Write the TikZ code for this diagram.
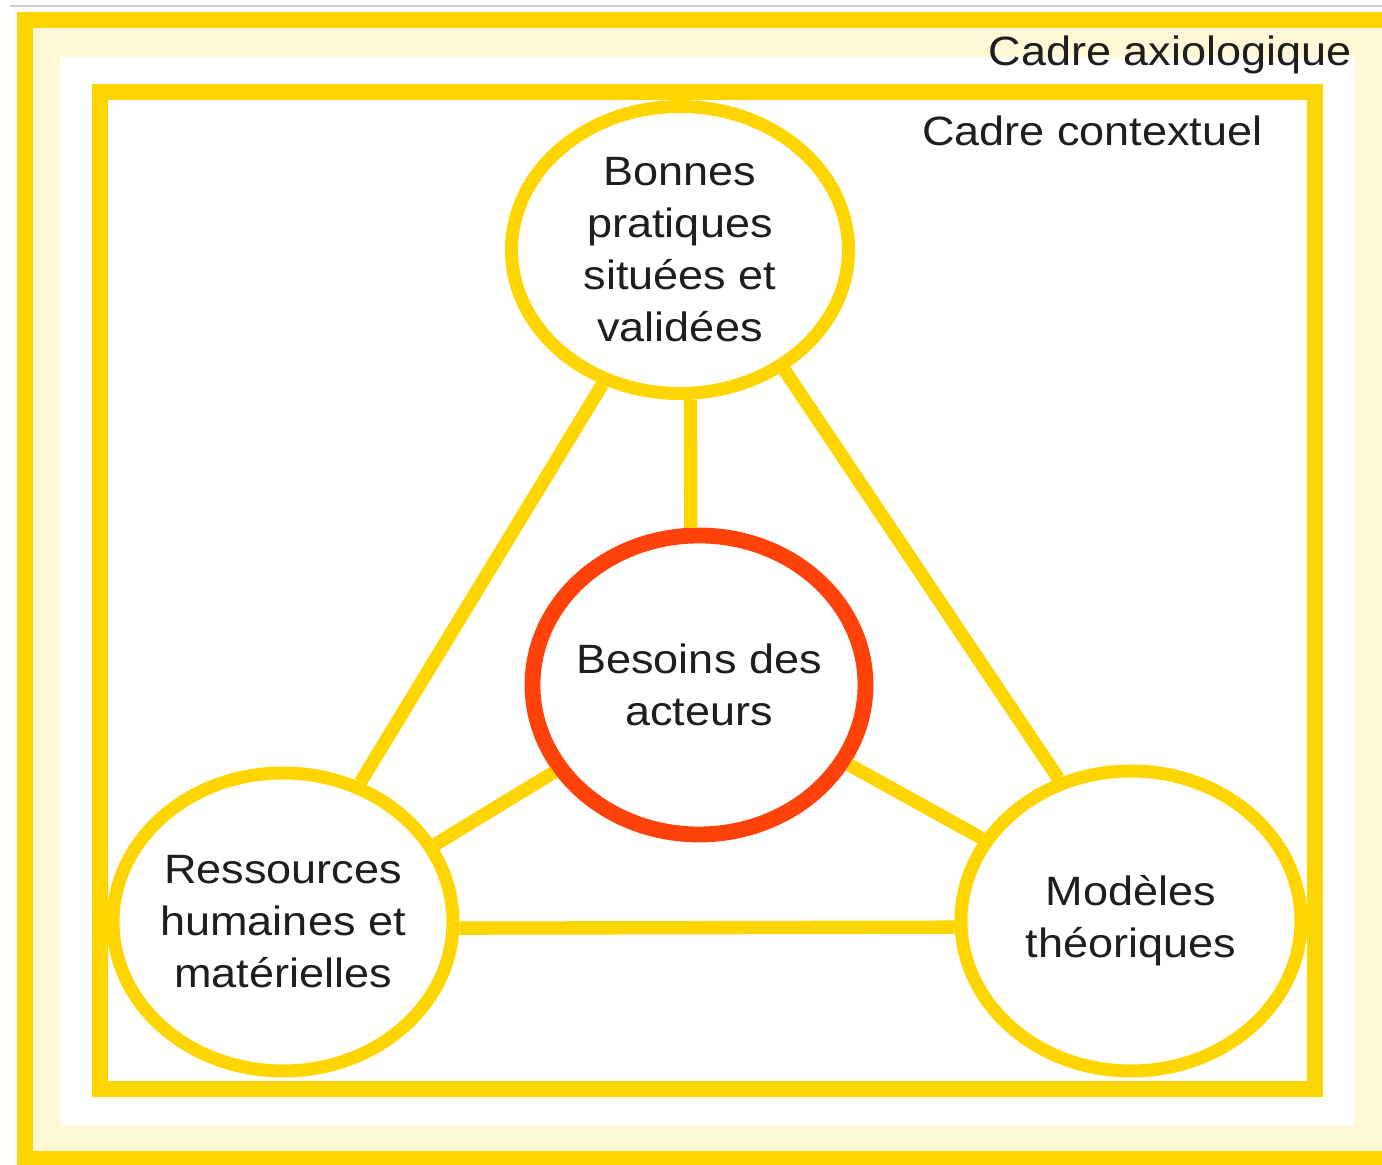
\documentclass[tikz,border=0pt]{standalone}
\usepackage{fontspec}
\setmainfont{Liberation Sans}[FakeStretch=1.1]
\usetikzlibrary{shapes.geometric}

\definecolor{gold}{RGB}{255,213,0}
\definecolor{paleyellow}{RGB}{255,248,214}
\definecolor{redorange}{RGB}{255,66,10}
\definecolor{ink}{RGB}{30,30,30}

\tikzset{
  pole/.style={ellipse, draw=gold, line width=7.4pt, fill=white, inner sep=-2mm,
    text=ink, font=\fontsize{23.3}{29.6}\selectfont},
  core/.style={pole, draw=redorange, line width=9pt},
  link/.style={draw=gold, line width=7.6pt},
  frame/.style={draw=gold, line width=8.6pt},
  caption/.style={inner sep=0pt, text=ink, font=\fontsize{23.3}{28}\selectfont}
}

\begin{document}
\begin{tikzpicture} [align=center]
\useasboundingbox (0,0) rectangle (27.64,23.3);

\fill[paleyellow] (0.5,0.12) rectangle (28,22.9);
\fill[white] (1.2,0.8) rectangle (27.1,22.16);
\draw[frame, line width=9pt] (0.5,0.12) rectangle (28,22.9);
\draw[frame] (2.0,1.52) rectangle (26.3,21.46);
\draw[gray!40, line width=0.8pt] (0.2,23.18) -- (27.64,23.18);

\path (27.04,21.98) node[caption, anchor=base east] (axio) {Cadre axiologique}
      (25.26,20.38) node[caption, anchor=base east] (contexte) {Cadre contextuel}

(13.6,18.3) node[pole, minimum width=6.74cm, minimum height=5.74cm] (bp) {Bonnes\\pratiques\\situées et\\validées}
(13.98,9.6) node[core, minimum width=6.66cm, minimum height=5.98cm] (ba) {Besoins des\\acteurs}
(5.66,4.86) node[pole, minimum width=6.8cm, minimum height=5.96cm] (rh) {Ressources\\humaines et\\matérielles}
(22.62,4.88) node[pole, minimum width=6.8cm, minimum height=6.0cm] (mt) {Modèles\\théoriques};

\draw[link] (bp.240) -- (rh.61);
\draw[link] (bp.274) -- (ba.93);
\draw[link] (bp.311) -- (mt.117);
\draw[link] (ba.211) -- (rh.27);
\draw[link] (ba.332) -- (mt.151);
\draw[link] (rh.358) -- (mt.182);

\end{tikzpicture}
\end{document}
